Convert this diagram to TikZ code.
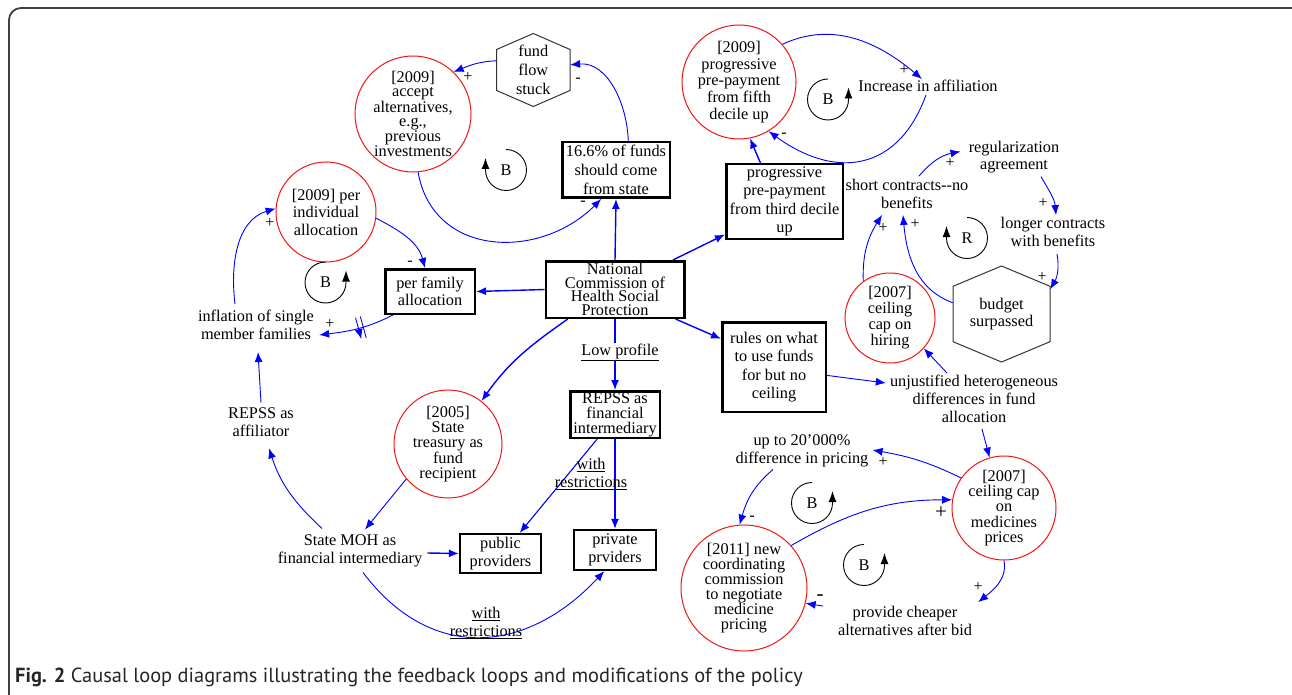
\documentclass[tikz,border=0pt]{standalone}
\usepackage{fontspec}
\setmainfont{Liberation Serif}
\newfontfamily\capfont{PT Sans}
\usetikzlibrary{arrows.meta,calc,decorations.markings}
\definecolor{lnblue}{RGB}{0,0,255}
\definecolor{cred}{RGB}{240,20,20}
\begin{document}
\begin{tikzpicture}[x=1pt,y=1pt,
  lead/.style={font=\fontsize{16.3}{#1}\selectfont},
  every node/.style={align=center, inner sep=0pt, text=black},
  ccl/.style={circle, draw=cred, line width=1pt, minimum size=#1},
  bx/.style={draw, line width=2.5pt},
  bxt/.style={draw, line width=1.8pt},
  hexline/.style={draw=black!80, line width=1pt},
  arr/.style={draw=lnblue, line width=0.9pt, -{Latex[length=10pt,width=8pt]}},
  arrk/.style={arr, line width=1.4pt},
  sg/.style={font=\fontsize{16}{16}\selectfont},
  sgb/.style={font=\fontsize{21}{21}\selectfont},
  loopm/.style={draw=black, line width=0.9pt, -{Latex[length=11pt,width=8pt]}},
  dbar/.style={decoration={markings, mark=at position 0.45 with {\draw[lnblue, line width=0.9pt] (-2.5,-11) -- (-2.5,11) (2.5,-11) -- (2.5,11);}}, postaction={decorate}},
]
\clip (0,-695) rectangle (1292,0);
\draw[line width=1.8pt, draw=black!75, rounded corners=12pt] (9,-8) rectangle (1304,-706);

% circles
\node[ccl=116] (acc) at (413,-114) {};
\node[lead=13.9] (accT) at (acc) {[2009]\\accept\\alternatives,\\e.g.,\\previous\\investments};
\node[ccl=114] (prog) at (739,-82) {};
\node[lead=16.7] (progT) at (prog) {[2009]\\progressive\\pre-payment\\from fifth\\decile up};
\node[ccl=100] (per) at (326,-212) {};
\node[lead=17.5] (perT) at (per) {[2009] per\\individual\\allocation};
\node[ccl=90] (hir) at (890,-318) {};
\node[lead=16] (hirT) at (hir) {[2007]\\ceiling\\cap on\\hiring};
\node[ccl=108] (tre) at (448,-444) {};
\node[lead=15.3] (treT) at (tre) {[2005]\\State\\treasury as\\fund\\recipient};
\node[ccl=104] (ceil) at (1004,-508) {};
\node[lead=15.2] (ceilT) at (ceil) {[2007]\\ceiling cap\\on\\medicines\\prices};
\node[ccl=126] (nco) at (744,-588) {};
\node[lead=15] (ncoT) at (nco) {[2011] new\\coordinating\\commission\\to negotiate\\medicine\\pricing};

% boxes
\node[bx, minimum width=107.5, minimum height=55.5, lead=18.7] (b166) at (616,-170) {16.6\% of funds\\should come\\from state};
\node[bx, minimum width=138.5, minimum height=56.5, lead=13.8] (nat) at (615,-289.5) {National\\Commission of\\Health Social\\Protection};
\node[bx, minimum width=89.5, minimum height=44.5, lead=17.3] (fam) at (430,-291.5) {per family\\allocation};
\node[bx, minimum width=116.5, minimum height=74.5, lead=18.5] (thd) at (784.5,-201.5) {progressive\\pre-payment\\from third decile\\up};
\node[bx, minimum width=103.5, minimum height=89.5, lead=18.3] (rul) at (774,-367) {rules on what\\to use funds\\for but no\\ceiling};
\node[bx, minimum width=89.5, minimum height=46.5, lead=15] (rfin) at (615,-414.5) {REPSS as\\financial\\intermediary};
\node[bxt, minimum width=81.5, minimum height=39.5, lead=17.7] (pub) at (500.5,-553.5) {public\\providers};
\node[bxt, minimum width=82.5, minimum height=40.5, lead=18.3] (priv) at (615,-550) {private\\prviders};

% hexagons
\node[minimum width=73.3, minimum height=73, lead=18.7] (ffs) at (533.3,-70) {fund\\flow\\stuck};
\draw[hexline] ($(ffs.center)+(0,36.5)$) -- ++(36.7,-16) -- ++(0,-41) -- ++(-36.7,-16) -- ++(-36.7,16) -- ++(0,41) -- cycle;
\node[minimum width=97, minimum height=96, lead=17.7] (bud) at (1001.5,-314) {budget\\surpassed};
\draw[hexline] ($(bud.center)+(0,48)$) -- ++(48.5,-20.3) -- ++(0,-55.4) -- ++(-48.5,-20.3) -- ++(-48.5,20.3) -- ++(0,55.4) -- cycle;

% plain texts
\node[lead=18] (inc) at (928,-86) {Increase in affiliation};
\node[lead=17] (reg) at (1014,-157.5) {regularization\\agreement};
\node[lead=18] (sho) at (907,-194) {short contracts-\kern0pt-no\\benefits};
\node[lead=18] (lon) at (1053,-232) {longer contracts\\with benefits};
\node[lead=18] (inf) at (256,-325) {inflation of single\\member families};
\node[lead=18.3] (aff) at (261,-422.5) {REPSS as\\affiliator};
\node[lead=18.3] (moh) at (350,-551) {State MOH as\\financial intermediary};
\node[lead=18] (unj) at (974,-399) {unjustified heterogeneous\\differences in fund\\allocation};
\node[lead=18.3] (upt) at (802,-451) {up to 20'000\%\\difference in pricing};
\node[lead=17.7] (chp) at (905,-621) {provide cheaper\\alternatives after bid};

% connectors
\draw[arr] (b166.67) to[out=92,in=5] (ffs.8);
\draw[arr] (ffs.166) to[out=182,in=22] (acc.46);
\draw[arr] (acc.-85) to[out=-80,in=-135,looseness=1.2] (b166.-117);
\draw[arrk] (nat.north) -- (b166.south);
\draw[arrk] (nat.27) -- (thd.209);
\draw[arrk] (thd.122) -- (prog.-79);
\draw[arr] (prog.41) to[out=25,in=140] ([xshift=-6pt,yshift=1pt]inc.north);
\draw[arr] ([xshift=-2pt,yshift=-3pt]inc.south) to[out=-110,in=-36,looseness=1.3] (prog.-59);
\draw[arr] ([xshift=12pt,yshift=3pt]sho.north) to[out=50,in=191] ([xshift=-8pt,yshift=6pt]reg.west);
\draw[arr] ([xshift=27pt,yshift=-3pt]reg.south) to[out=-60,in=95] ([xshift=3pt,yshift=2pt]lon.north);
\draw[arr] ([xshift=4pt,yshift=-7pt]lon.south) to[out=-80,in=60] (bud.27);
\draw[arr] (bud.167) to[out=160,in=-85] ([xshift=-4pt,yshift=-6pt]sho.south);
\draw[arr] (hir.126) to[out=92,in=-122] ([xshift=-25pt,yshift=-6pt]sho.south);
\draw[arr] ([xshift=-27pt,yshift=2pt]unj.north) -- (hir.-42);
\draw[arr] (rul.-9) -- ([xshift=-4pt,yshift=16pt]unj.west);
\draw[arrk] (nat.-26) -- (rul.152);
\draw[arr] ([xshift=8pt,yshift=-6pt]unj.south) -- (ceil.106);
\draw[arr] (ceil.145) to[out=154,in=-10] ([xshift=4pt,yshift=1pt]upt.east);
\draw[arr] ([xshift=-29pt,yshift=-2pt]upt.south) to[out=-140,in=74] (nco.94);
\draw[arr] (nco.42) to[out=30,in=180] (ceil.171);
\draw[arr] (ceil.-90) to[out=-80,in=39] ([xshift=6pt,yshift=4pt]chp.north east);
\draw[arr] ([xshift=-15pt,yshift=15pt]chp.west) -- (nco.-14);
\draw[arrk] (nat.west) -- (fam.east);
\draw[arr] (per.-7) to[out=-28,in=105] ([xshift=-5pt]fam.north);
\draw[arr, dbar] ([xshift=-37pt]fam.south) to[out=-153,in=7] ([xshift=5pt,yshift=-10pt]inf.east);
\draw[arr] ([xshift=-21pt,yshift=6pt]inf.north) to[out=97,in=-163] (per.176);
\draw[arr] ([yshift=5pt]aff.north) -- ([xshift=2pt,yshift=-12pt]inf.south);
\draw[arr] ([xshift=-28pt,yshift=6pt]moh.north) to[out=137,in=-72] ([xshift=8pt,yshift=-11pt]aff.south);
\draw[arr] (tre.-140) -- ([xshift=15pt,yshift=5pt]moh.north);
\draw[arrk] (nat.-148) to[out=-145,in=55] (tre.52);
\draw[arrk] (nat.south) -- (rfin.north);
\draw[arr, line width=1.1pt] (rfin.-126) -- (pub.47);
\draw[arrk] (rfin.south) -- (priv.north);
\draw[arrk] ([xshift=5pt,yshift=-2pt]moh.east) -- (pub.west);
\draw[arr] ([xshift=13pt,yshift=-5pt]moh.south) to[out=-53,in=-133,looseness=1.2] (priv.-117);

% edge labels
\node[lead=18, fill=white, inner sep=1pt] (lp) at (620,-352) {\underline{Low profile}};
\node[lead=18] (wr1) at (591,-474) {\underline{with}\\\underline{restrictions}};
\node[lead=18.7] (wr2) at (486,-623) {\underline{with}\\\underline{restrictions}};

% signs
\node[sg] (s1) at (578,-80) {-};
\node[sg] (s2) at (468,-77) {+};
\node[sg] (s3) at (583,-203) {-};
\node[sg] (s4) at (904,-70) {+};
\node[sg] (s5) at (784,-135) {-};
\node[sg] (s6) at (950,-163) {+};
\node[sg] (s7) at (1043,-203) {+};
\node[sg] (s8) at (1042,-277) {+};
\node[sg] (s9) at (915,-224) {+};
\node[sg] (s10) at (883,-228) {+};
\node[sg] (s11) at (883,-462) {+};
\node[sg] (s12) at (752,-518) {-};
\node[sgb] (s13) at (941,-513) {+};
\node[sg] (s14) at (978,-587) {+};
\node[sgb] (s15) at (820,-598) {-};
\node[sg] (s16) at (410,-263) {-};
\node[sg] (s17) at (330,-324) {+};
\node[sg] (s18) at (270,-223) {+};

% loop markers
\node[lead=16.3] (L1) at (506,-170) {B};
\draw[loopm] ($(L1.center)+(90:20.5)$) arc[start angle=90, end angle=-180, radius=20.5] -- ++(0,12);
\node[lead=16.3] (L2) at (828,-99.5) {B};
\draw[loopm] ($(L2.center)+(90:20.5)$) arc[start angle=90, end angle=360, radius=20.5] -- ++(0,12);
\node[lead=16.3] (L3) at (325.5,-282.5) {B};
\draw[loopm] ($(L3.center)+(90:20.5)$) arc[start angle=90, end angle=360, radius=20.5] -- ++(0,12);
\node[lead=16.3] (L4) at (967,-238) {R};
\draw[loopm] ($(L4.center)+(90:20.5)$) arc[start angle=90, end angle=-180, radius=20.5] -- ++(0,12);
\node[lead=16.3] (L5) at (812,-503) {B};
\draw[loopm] ($(L5.center)+(90:20.5)$) arc[start angle=90, end angle=360, radius=20.5] -- ++(0,12);
\node[lead=16.3] (L6) at (864,-565) {B};
\draw[loopm] ($(L6.center)+(90:20.5)$) arc[start angle=90, end angle=360, radius=20.5] -- ++(0,12);

% caption
\node[anchor=west, font={\capfont\fontsize{20.4}{20.4}\selectfont}, text=black!85] (cap) at (15,-677) {\textbf{Fig. 2} Causal loop diagrams illustrating the feedback loops and modifications of the policy};
\end{tikzpicture}
\end{document}
